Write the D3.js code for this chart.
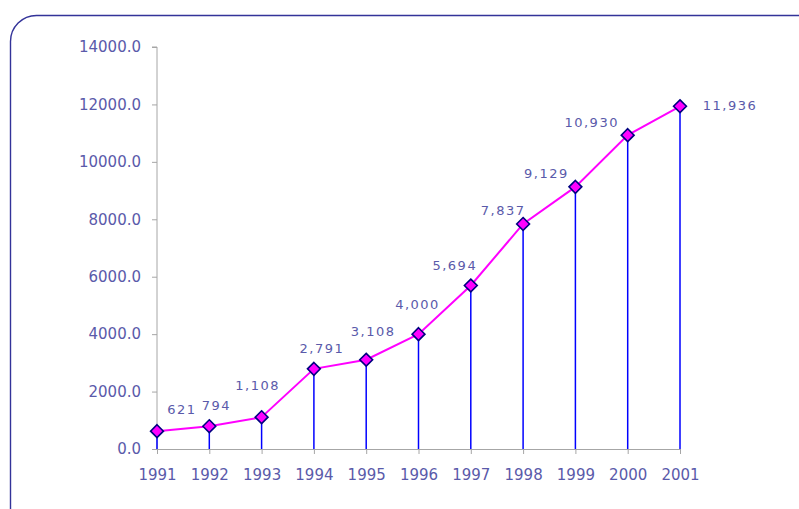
<!DOCTYPE html>
<html>
<head>
<meta charset="utf-8">
<script src="https://cdn.jsdelivr.net/npm/d3@7"></script>
<style>
  html, body { margin: 0; padding: 0; background: #fff; }
  svg { display: block; font-family: "DejaVu Sans", Verdana, sans-serif; }
</style>
</head>
<body>
<div id="chart"></div>
<script>
// Data
const years = [1991, 1992, 1993, 1994, 1995, 1996, 1997, 1998, 1999, 2000, 2001];
const values = [621, 794, 1108, 2791, 3108, 4000, 5694, 7837, 9129, 10930, 11936];
const yTicks = [0, 2000, 4000, 6000, 8000, 10000, 12000, 14000];
// label placement relative to each point (px)
const labelDx = [25, 7, -4, 8, 7, -1, -16, -20, -29, -36, 50];
const labelDy = [-17, -16, -27, -16, -24, -25, -16, -9, -9, -8, 4];

(function () {
  const width = 799, height = 509;
  const margin = { top: 47, left: 157, right: 119, bottom: 60 };
  const innerW = width - margin.left - margin.right;
  const innerH = height - margin.top - margin.bottom;

  const textColor = '#5a5aaa';
  const axisColor = '#a6a6a6';

  const svg = d3.select('#chart').append('svg')
    .attr('width', width)
    .attr('height', height);

  // Chart area border (rounded, runs off right/bottom edge)
  svg.append('rect')
    .attr('x', 10.5)
    .attr('y', 15.5)
    .attr('width', 820)
    .attr('height', 540)
    .attr('rx', 26)
    .attr('ry', 26)
    .attr('fill', 'none')
    .attr('stroke', '#333399')
    .attr('stroke-width', 1.4);

  const g = svg.append('g')
    .attr('transform', `translate(${margin.left},${margin.top})`);

  const x = d3.scalePoint().domain(years).range([0, innerW]);
  const y = d3.scaleLinear().domain([0, 14000]).range([innerH, 0]);

  // Y axis
  const yAxis = d3.axisLeft(y)
    .tickValues(yTicks)
    .tickFormat(d3.format('.1f'))
    .tickSize(5)
    .tickPadding(11);

  g.append('g')
    .attr('class', 'y-axis')
    .call(yAxis)
    .call(a => a.select('.domain').attr('stroke', axisColor).attr('d', `M0,${innerH}V0H-5`))
    .call(a => a.selectAll('.tick line').attr('stroke', axisColor))
    .call(a => a.selectAll('text')
      .attr('fill', textColor)
      .attr('font-size', 15)
      .attr('font-family', '"DejaVu Sans", Verdana, sans-serif'));

  // X axis
  const xAxis = d3.axisBottom(x)
    .tickSize(5)
    .tickSizeOuter(0)
    .tickPadding(15);

  g.append('g')
    .attr('class', 'x-axis')
    .attr('transform', `translate(0,${innerH})`)
    .call(xAxis)
    .call(a => a.select('.domain').attr('stroke', axisColor))
    .call(a => a.selectAll('.tick line').attr('stroke', axisColor))
    .call(a => a.selectAll('text')
      .attr('fill', textColor)
      .attr('font-size', 15)
      .attr('font-family', '"DejaVu Sans", Verdana, sans-serif'));

  const data = years.map((yr, i) => ({ year: yr, value: values[i], i }));

  // Drop lines
  g.append('g').selectAll('line.drop')
    .data(data)
    .enter()
    .append('line')
    .attr('class', 'drop')
    .attr('x1', d => x(d.year))
    .attr('x2', d => x(d.year))
    .attr('y1', d => y(d.value))
    .attr('y2', y(0))
    .attr('stroke', '#0000ff')
    .attr('stroke-width', 1.5);

  // Series line
  const line = d3.line()
    .x(d => x(d.year))
    .y(d => y(d.value));

  g.append('path')
    .datum(data)
    .attr('d', line)
    .attr('fill', 'none')
    .attr('stroke', '#ff00ff')
    .attr('stroke-width', 2);

  // Diamond markers
  const diamond = d3.symbol().type(d3.symbolDiamond2).size(105);
  g.append('g').selectAll('path.marker')
    .data(data)
    .enter()
    .append('path')
    .attr('class', 'marker')
    .attr('d', diamond)
    .attr('transform', d => `translate(${x(d.year)},${y(d.value)})`)
    .attr('fill', '#ff00ff')
    .attr('stroke', '#000080')
    .attr('stroke-width', 1.6);

  // Value labels
  g.append('g').selectAll('text.val')
    .data(data)
    .enter()
    .append('text')
    .attr('class', 'val')
    .attr('x', d => x(d.year) + labelDx[d.i])
    .attr('y', d => y(d.value) + labelDy[d.i])
    .attr('text-anchor', 'middle')
    .attr('font-size', 13)
    .attr('letter-spacing', 1.5)
    .attr('fill', textColor)
    .text(d => d3.format(',')(d.value));
})();
</script>
</body>
</html>
